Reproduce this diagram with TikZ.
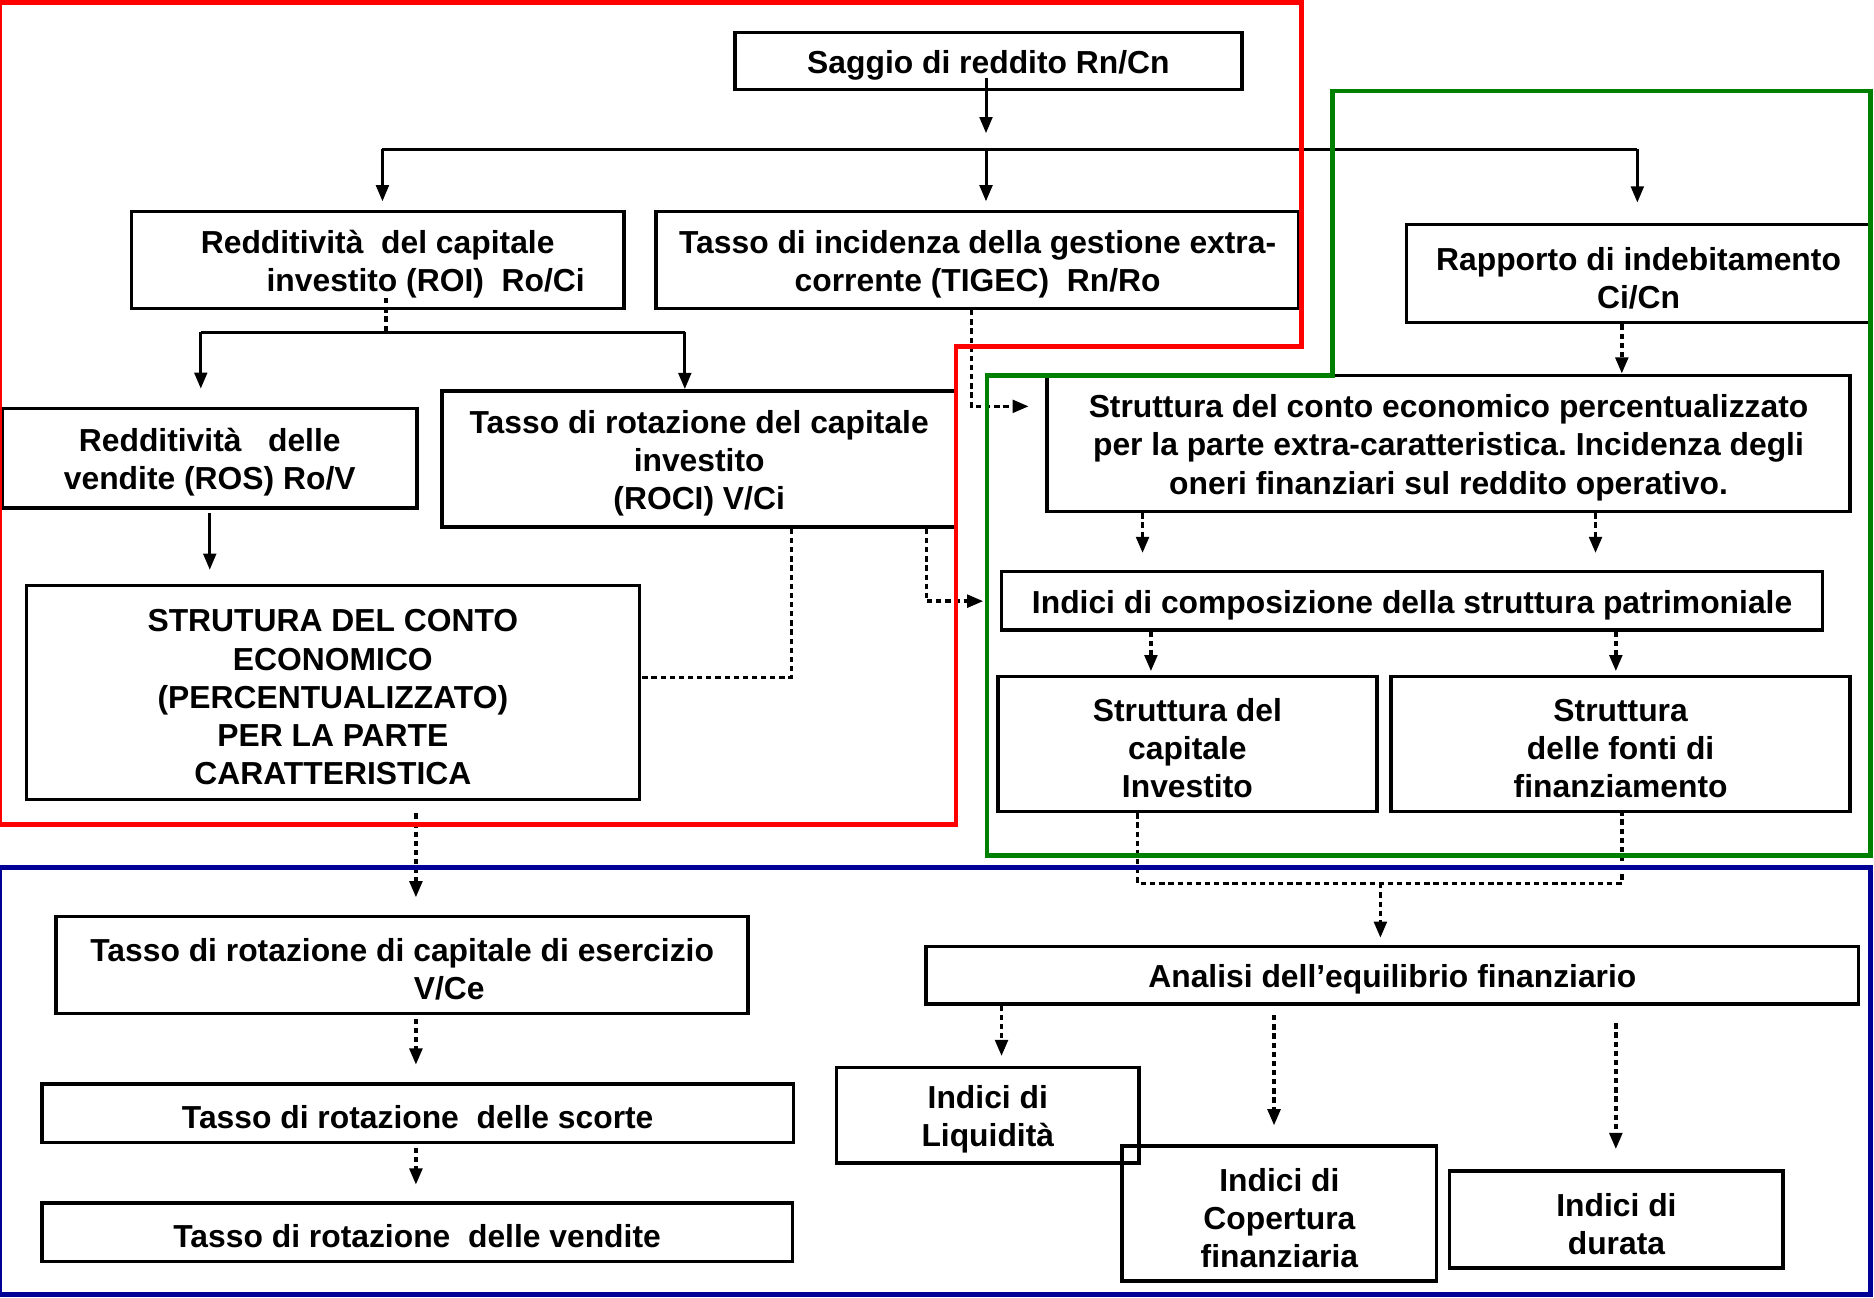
\documentclass[tikz,border=0pt]{standalone}
\usepackage{fontspec}
\setmainfont{Liberation Sans}
\usetikzlibrary{arrows.meta}
\definecolor{frred}{RGB}{255,0,0}
\definecolor{frgreen}{RGB}{0,128,0}
\definecolor{frblue}{RGB}{0,0,150}
\newdimen\px
\px=0.011952cm
\newcommand\topstrut{\rule{0pt}{9pt}}
\frenchspacing

\begin{document}
\begin{tikzpicture}[x=0.011952cm,y=-0.011952cm,
font=\fontsize{9.05}{10.85}\selectfont\bfseries,
box/.style={draw,line width=1pt,align=center,inner sep=0pt,execute at begin node={\topstrut}},
sz/.style 2 args={minimum width=#1*\px,minimum height=#2*\px},
line/.style={line width=0.85pt},
flow/.style={-{Triangle[length=4.6pt,width=3.6pt]},line width=0.85pt},
dotline/.style={line width=0.95pt,dash pattern=on 1.5pt off 1.1pt},
dflow/.style={flow,dotline},
frame/.style={line width=1.3pt,line join=miter}]
\path[fill=white,use as bounding box] (0,0) rectangle (1568,1086);

\node[box,sz={424}{48}] (sag) at (827,51) {Saggio di reddito Rn/Cn};
\node[box,sz={412}{81}] (roi) at (316,217.5) {\topstrut Redditività\ \ del capitale\\\hspace*{0.96cm}investito (ROI)\ \ Ro/Ci};
\node[box,sz={538}{81}] (tig) at (818,217.5) {\topstrut Tasso di incidenza della gestione extra-\\corrente (TIGEC)\ \ Rn/Ro};
\node[box,sz={388}{82}] (rap) at (1371,229) {\topstrut Rapporto di indebitamento\\Ci/Cn};
\node[box,sz={347}{83}] (ros) at (175.5,383.5) {\topstrut Redditività\ \ \ delle\\vendite (ROS) Ro/V};
\node[box,sz={430}{114}] (rot) at (585,384) {\topstrut Tasso di rotazione del capitale\\investito\\(ROCI) V/Ci};
\node[box,sz={513}{179}] (scc) at (278.5,579.5) {\topstrut STRUTURA DEL CONTO\\ECONOMICO\\(PERCENTUALIZZATO)\\PER LA PARTE\\CARATTERISTICA};
\node[box,sz={672}{114}] (sce) at (1212,371) {\topstrut Struttura del conto economico percentualizzato\\per la parte extra-caratteristica. Incidenza degli\\oneri finanziari sul reddito operativo.};
\node[box,sz={687}{49}] (comp) at (1181.5,502.5) {Indici di composizione della struttura patrimoniale};
\node[box,sz={317}{113}] (sci) at (993.5,622.5) {\topstrut Struttura del\\capitale\\Investito};
\node[box,sz={384}{113}] (sfo) at (1356,622.5) {\topstrut Struttura\\delle fonti di\\finanziamento};
\node[box,sz={579}{81}] (trc) at (336.5,807.5) {\topstrut Tasso di rotazione di capitale di esercizio\\\hspace*{0.94cm}V/Ce};
\node[box,sz={629}{49}] (tsc) at (349.5,931.5) {Tasso di rotazione\ \ delle scorte};
\node[box,sz={628}{49}] (tve) at (349,1031) {Tasso di rotazione\ \ delle vendite};
\node[box,sz={780}{48}] (ana) at (1165,816) {Analisi dell’equilibrio finanziario};
\node[box,sz={253}{80}] (liq) at (826.5,933) {\topstrut Indici di\\Liquidità};
\node[box,sz={263}{113}] (cop) at (1070.5,1015.5) {\topstrut Indici di\\Copertura\\finanziaria};
\node[box,sz={279}{81}] (dur) at (1352.5,1020.5) {\topstrut Indici di\\durata};

\coordinate (bus) at (825,125);
\coordinate (busl) at (320,125);
\coordinate (busr) at (1370,125);
\draw[flow,shorten <=-3.7pt] (sag.south -| bus) -- ++(0,35);
\draw[line] (busl) -- (busr);
\draw[flow,shorten >=2.4pt] (busl) -- (busl |- roi.north);
\draw[flow,shorten >=2.4pt] (bus) -- (bus |- tig.north);
\draw[flow,shorten >=5.8pt] (busr) -- (busr |- rap.north);

\coordinate (rs) at (323,278);
\coordinate (sl) at (168,278);
\coordinate (sr) at (573,278);
\draw[dotline,shorten <=-3.4pt] (roi.south -| rs) -- (rs);
\draw[line] (sl) -- (sr);
\draw[flow,shorten >=5.2pt] (sl) -- (sl |- ros.north);
\draw[flow] (sr) -- (sr |- rot.north);
\draw[flow,shorten <=1pt,shorten >=4pt] (ros.south) -- (ros.south |- scc.north);

\coordinate (rk) at (662,567);
\coordinate (rc) at (775,503);
\coordinate (tc) at (813,340);
\coordinate (rx) at (1357,300);
\draw[dotline] (rot.south -| rk) -- (rk) -- (scc.east |- rk);
\draw[dflow,shorten >=4.7pt] (rot.south -| rc) -- (rc) -- (comp.west |- rc);
\draw[dflow,shorten >=4.7pt] (tig.south -| tc) -- (tc) -- (sce.west |- tc);
\draw[dflow] (rap.south -| rx) -- (sce.north -| rx);
\foreach \xx in {956,1335} {
  \coordinate (t) at (\xx,0);
  \draw[dflow,shorten >=4.7pt] (sce.south -| t) -- (comp.north -| t);
}
\foreach \xx/\dest in {963/sci,1352/sfo} {
  \coordinate (t) at (\xx,0);
  \draw[dflow,shorten >=1pt] (comp.south -| t) -- (\dest.north -| t);
}

\coordinate (jl) at (952,739);
\coordinate (jm) at (1155,739);
\coordinate (jr) at (1357,739);
\draw[dotline] (sci.south -| jl) -- (jl) -- (jr) -- (sfo.south -| jr);
\draw[dflow,shorten >=2pt] (jm) -- (ana.north -| jm);

\coordinate (sx) at (348,700);
\draw[dflow,shorten <=3.4pt,shorten >=5pt] (scc.south -| sx) -- (trc.north -| sx);
\draw[dflow,shorten <=1pt,shorten >=5pt] (trc.south -| sx) -- (tsc.north -| sx);
\draw[dflow,shorten <=1pt,shorten >=4.7pt] (tsc.south -| sx) -- (tve.north -| sx);

\coordinate (al) at (838,0);
\coordinate (am) at (1066,0);
\coordinate (ar) at (1352,0);
\draw[dflow,shorten >=2.7pt] (ana.south -| al) -- (liq.north -| al);
\draw[dflow,shorten <=2.7pt,shorten >=5.4pt] (ana.south -| am) -- (cop.north -| am);
\draw[dflow,shorten <=5pt,shorten >=5.8pt] (ana.south -| ar) -- (dur.north -| ar);

\draw[frame,frred] (0,2) -- (1089,2) -- (1089,290) -- (800,290) -- (800,690) -- (0,690) -- cycle;
\draw[frame,frgreen] (1115,76) -- (1565,76) -- (1565,716) -- (826,716) -- (826,314) -- (1115,314) -- cycle;
\draw[frame,frblue] (0,726) rectangle (1565,1083);
\end{tikzpicture}
\end{document}
